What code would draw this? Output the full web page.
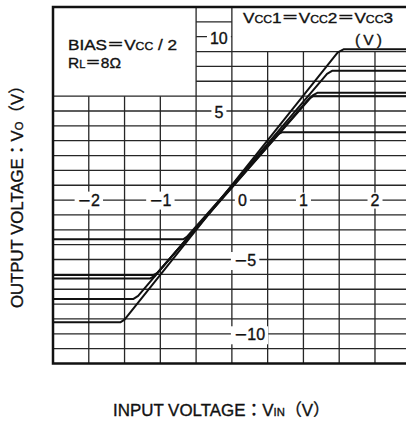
<!DOCTYPE html>
<html>
<head>
<meta charset="utf-8">
<script src="https://cdn.jsdelivr.net/npm/d3@7"></script>
<style>
  body { margin: 0; background: #fff; }
  svg { display: block; font-family: 'Liberation Sans', Arial, 'Noto Sans CJK JP', sans-serif; }
  svg text { fill: #111; stroke: #111; stroke-width: 0.35px; }
</style>
</head>
<body>
<script>
'use strict';

// tick labels
const xTickValues = [-2, -1, 0, 1, 2];
const xTickLabels = ['−2', '−1', '0', '1', '2'];
const yTickValues = [10, 5, -5, -10];
const yTickLabels = ['10', '5', '−5', '−10'];

// output curves (input V, output V), highest supply first
const curve1In = [-2.5, -1.56, -1.5, 1.48, 1.56, 2.5];
const curve1Out = [-9.23, -9.23, -9.05, 8.95, 9.15, 9.15];
const curve2In = [-2.5, -1.38, -1.31, 1.33, 1.4, 2.5];
const curve2Out = [-7.66, -7.66, -7.45, 7.5, 7.7, 7.7];
const curve3In = [-2.5, -1.14, -1.08, 1.13, 1.2, 2.5];
const curve3Out = [-6.27, -6.27, -6.1, 6.05, 6.23, 6.23];
const curve4In = [-2.5, -1.1, -1.04, 1.08, 1.14, 2.5];
const curve4Out = [-6.05, -6.05, -5.9, 5.85, 6.0, 6.0];
const curve5In = [-2.5, -0.68, -0.63, 0.64, 0.7, 2.5];
const curve5Out = [-3.64, -3.64, -3.48, 3.42, 3.56, 3.56];

(function() {
  const curves = [
    [curve1In, curve1Out],
    [curve2In, curve2Out],
    [curve3In, curve3Out],
    [curve4In, curve4Out],
    [curve5In, curve5Out],
  ];

  const svg = d3
    .select('body')
    .append('svg')
    .attr('width', 406)
    .attr('height', 423);

  // plot runs from -2.5..2.5 V in, -12..12 V out (right edge is cut off)
  const xScale = d3
    .scaleLinear()
    .domain([-2.5, 2.5])
    .range([53, 410.75]);
  const yScale = d3
    .scaleLinear()
    .domain([-12, 12])
    .range([363.5, 7]);

  const gridColor = '#262626';

  // vertical grid, stopping under the two text boxes
  svg
    .append('g')
    .selectAll('line')
    .data(xScale.ticks(10).filter(d => d > -2.5 && d < 2.5))
    .enter()
    .append('line')
    .attr('x1', d => xScale(d))
    .attr('x2', d => xScale(d))
    .attr('y1', yScale(-12))
    .attr('y2', d => yScale(d < -0.5 ? 6 : d > 0 ? 9 : 12))
    .attr('stroke', gridColor)
    .attr('stroke-width', 1.3);

  // horizontal grid
  svg
    .append('g')
    .selectAll('line')
    .data(yScale.ticks(24).filter(d => d > -12 && d < 12))
    .enter()
    .append('line')
    .attr('x1', d => xScale(d > 6 ? -0.5 : -2.5))
    .attr('x2', d => xScale(d > 9 ? 0 : 2.5))
    .attr('y1', d => yScale(d))
    .attr('y2', d => yScale(d))
    .attr('stroke', gridColor)
    .attr('stroke-width', 1.3);

  // transfer curves
  const line = d3
    .line()
    .x(d => xScale(d[0]))
    .y(d => yScale(d[1]));

  svg
    .append('g')
    .selectAll('path')
    .data(curves.map(c => c[0].map((v, i) => [v, c[1][i]])))
    .enter()
    .append('path')
    .attr('d', line)
    .attr('fill', 'none')
    .attr('stroke', '#111')
    .attr('stroke-width', 2)
    .attr('stroke-linejoin', 'round');

  // tick labels sit on the grid with a white patch behind them
  const bgLayer = svg.append('g');
  const labelLayer = svg.append('g');

  function tickLabel(text, x, y, anchor) {
    const t = labelLayer
      .append('text')
      .attr('x', x)
      .attr('y', y)
      .attr('text-anchor', anchor)
      .style('font-size', '16px');
    if (text.startsWith('−')) {
      t.append('tspan')
        .style('font-family', 'DejaVu Sans')
        .text('−');
      t.append('tspan').text(text.slice(1));
    } else {
      t.text(text);
    }
    const bb = t.node().getBBox();
    bgLayer
      .append('rect')
      .attr('x', bb.x - 3)
      .attr('y', bb.y + 1)
      .attr('width', bb.width + 6)
      .attr('height', bb.height - 1)
      .attr('fill', '#fff');
  }

  xTickValues.forEach((v, i) => {
    if (v === 0) {
      tickLabel(xTickLabels[i], xScale(0) + 6, yScale(-1) + 5.5, 'start');
    } else {
      tickLabel(xTickLabels[i], xScale(v), yScale(-1) + 5.5, 'middle');
    }
  });

  yTickValues.forEach((v, i) => {
    if (v > 0) {
      tickLabel(yTickLabels[i], xScale(0) - 13, yScale(v) + 7.5, 'middle');
    } else {
      tickLabel(yTickLabels[i], xScale(0) + 2, yScale(v) + 6.5, 'start');
    }
  });

  // outer frame
  svg
    .append('rect')
    .attr('x', xScale(-2.5))
    .attr('y', yScale(12))
    .attr('width', xScale(2.5) - xScale(-2.5))
    .attr('height', yScale(-12) - yScale(12))
    .attr('fill', 'none')
    .attr('stroke', '#111')
    .attr('stroke-width', 2.5);

  // condition box, upper left
  const cond = svg.append('g').style('font-size', '15.5px');
  const bias = cond
    .append('text')
    .attr('x', 68)
    .attr('y', 50)
    .attr('textLength', 109)
    .attr('lengthAdjust', 'spacingAndGlyphs');
  bias.append('tspan').text('BIAS＝V');
  bias.append('tspan').style('font-size', '11px').text('CC');
  bias.append('tspan').text(' / 2');
  const rl = cond.append('text').attr('x', 68).attr('y', 68);
  rl.append('tspan').text('R');
  rl.append('tspan').style('font-size', '11px').text('L');
  rl.append('tspan').text('＝8Ω');

  // supply box, upper right
  const vcc = cond
    .append('text')
    .attr('x', 243)
    .attr('y', 23)
    .attr('textLength', 150)
    .attr('lengthAdjust', 'spacingAndGlyphs');
  ['1', '2', '3'].forEach((n, i) => {
    vcc.append('tspan').text((i > 0 ? '＝' : '') + 'V');
    vcc.append('tspan').style('font-size', '11px').text('CC');
    vcc.append('tspan').text(n);
  });
  cond
    .append('text')
    .attr('x', 355)
    .attr('y', 45)
    .attr('textLength', 27)
    .attr('lengthAdjust', 'spacing')
    .text('(V)');

  // axis titles
  const xTitle = svg
    .append('text')
    .attr('x', 113)
    .attr('y', 416)
    .attr('textLength', 217)
    .attr('lengthAdjust', 'spacingAndGlyphs')
    .style('font-size', '16.5px');
  xTitle.append('tspan').text('INPUT VOLTAGE：V');
  xTitle.append('tspan').style('font-size', '11px').text('IN');
  xTitle.append('tspan').text('（V）');

  const yTitle = svg
    .append('text')
    .attr('transform', 'translate(23, 308)rotate(-90)')
    .attr('textLength', 231)
    .attr('lengthAdjust', 'spacingAndGlyphs')
    .style('font-size', '16.5px');
  yTitle.append('tspan').text('OUTPUT VOLTAGE：V');
  yTitle.append('tspan').style('font-size', '11px').text('O');
  yTitle.append('tspan').text('（V）');
})();
</script>
</body>
</html>
